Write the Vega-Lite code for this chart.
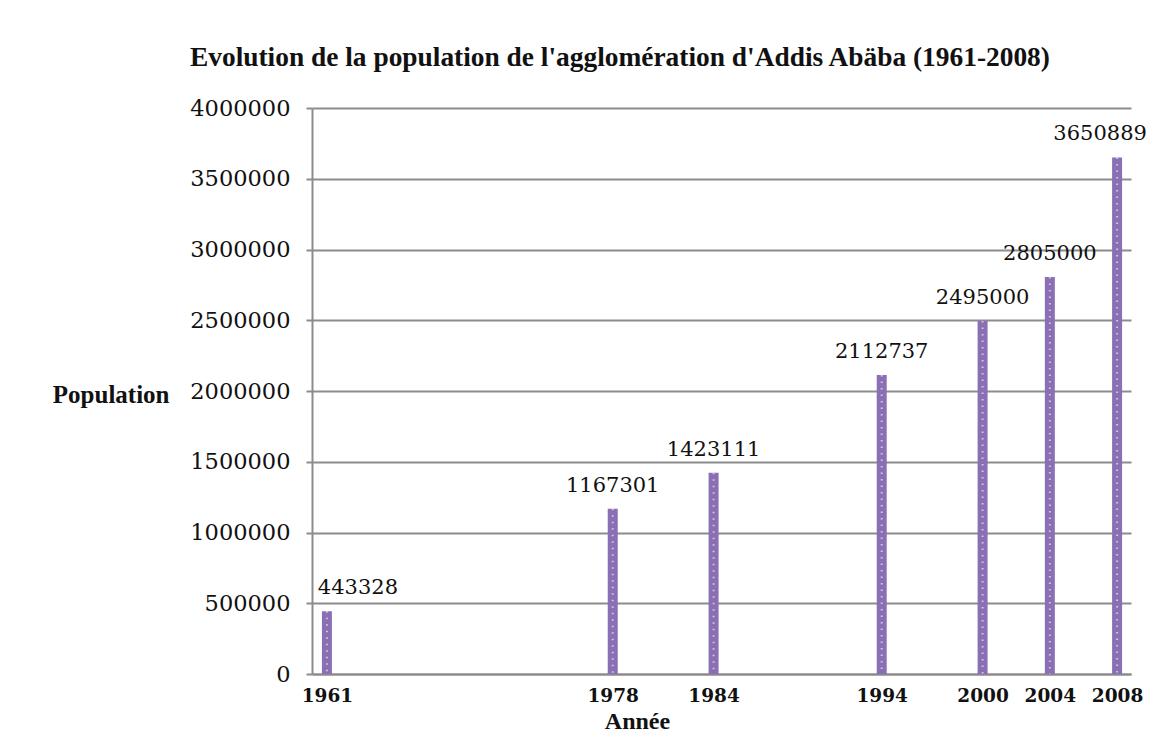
{
  "$schema": "https://vega.github.io/schema/vega-lite/v6.json",
  "autosize": {"type": "none"},
  "padding": {"left": 312, "top": 108, "right": 21, "bottom": 65},
  "width": 819,
  "height": 566,
  "background": "white",
  "title": {
    "text": "Evolution de la population de l'agglomération d'Addis Abäba (1961-2008)",
    "font": "Liberation Serif",
    "fontSize": 27.4,
    "fontWeight": "bold",
    "color": "#111111",
    "anchor": "start",
    "frame": "group",
    "dx": -122,
    "baseline": "alphabetic",
    "offset": 4
  },
  "data": {
    "values": [
      {"year": 1961, "pop": 443328},
      {"year": 1978, "pop": 1167301},
      {"year": 1984, "pop": 1423111},
      {"year": 1994, "pop": 2112737},
      {"year": 2000, "pop": 2495000},
      {"year": 2004, "pop": 2805000},
      {"year": 2008, "pop": 3650889}
    ]
  },
  "encoding": {
    "x": {
      "field": "year",
      "type": "quantitative",
      "scale": {"domain": [1960.41, 2008.53], "nice": false, "zero": false},
      "axis": {
        "values": [1961, 1978, 1984, 1994, 2000, 2004, 2008],
        "format": "d",
        "labelFont": "DejaVu Serif",
        "labelFontWeight": "bold",
        "labelFontSize": 18.5,
        "labelColor": "#111111",
        "labelPadding": 12,
        "labelFlush": false,
        "labelOverlap": false,
        "ticks": false,
        "grid": false,
        "domainColor": "#8c8c8c",
        "domainWidth": 2,
        "title": "Année",
        "titleFont": "Liberation Serif",
        "titleFontSize": 24,
        "titleFontWeight": "bold",
        "titleColor": "#111111",
        "titleX": 325,
        "titleY": 54,
        "titleAnchor": "middle",
        "titleAlign": "center",
        "titleBaseline": "alphabetic"
      }
    },
    "y": {
      "field": "pop",
      "type": "quantitative",
      "scale": {"domain": [0, 4000000], "nice": false},
      "axis": {
        "values": [0, 500000, 1000000, 1500000, 2000000, 2500000, 3000000, 3500000, 4000000],
        "format": "d",
        "labelFont": "DejaVu Serif",
        "labelFontSize": 22.5,
        "labelColor": "#111111",
        "labelPadding": 16,
        "tickSize": 6,
        "tickColor": "#8c8c8c",
        "tickWidth": 2,
        "domainColor": "#8c8c8c",
        "domainWidth": 2,
        "grid": true,
        "gridColor": "#8c8c8c",
        "gridWidth": 2,
        "title": "Population",
        "titleFont": "Liberation Serif",
        "titleFontSize": 25,
        "titleFontWeight": "bold",
        "titleColor": "#111111",
        "titleAngle": 0,
        "titleAlign": "right",
        "titleBaseline": "alphabetic",
        "titleX": -143,
        "titleY": 294
      }
    }
  },
  "layer": [
    {
      "mark": {"type": "bar", "size": 10, "color": "#8a6fb5"}
    },
    {
      "mark": {"type": "rule", "color": "white", "strokeWidth": 2, "strokeDash": [1.5, 5], "opacity": 0.6},
      "encoding": {"y2": {"datum": 0}}
    },
    {
      "transform": [{"filter": "datum.year != 1961 && datum.year != 2008"}],
      "mark": {"type": "text", "font": "DejaVu Serif", "fontSize": 21, "color": "#111111", "align": "center", "baseline": "alphabetic", "dy": -17},
      "encoding": {"text": {"field": "pop", "type": "quantitative", "format": "d"}}
    },
    {
      "transform": [{"filter": "datum.year == 1961"}],
      "mark": {"type": "text", "font": "DejaVu Serif", "fontSize": 21, "color": "#111111", "align": "center", "baseline": "alphabetic", "dy": -17, "dx": 31},
      "encoding": {"text": {"field": "pop", "type": "quantitative", "format": "d"}}
    },
    {
      "transform": [{"filter": "datum.year == 2008"}],
      "mark": {"type": "text", "font": "DejaVu Serif", "fontSize": 21, "color": "#111111", "align": "center", "baseline": "alphabetic", "dy": -17, "dx": -17},
      "encoding": {"text": {"field": "pop", "type": "quantitative", "format": "d"}}
    }
  ],
  "config": {"view": {"stroke": null}}
}
